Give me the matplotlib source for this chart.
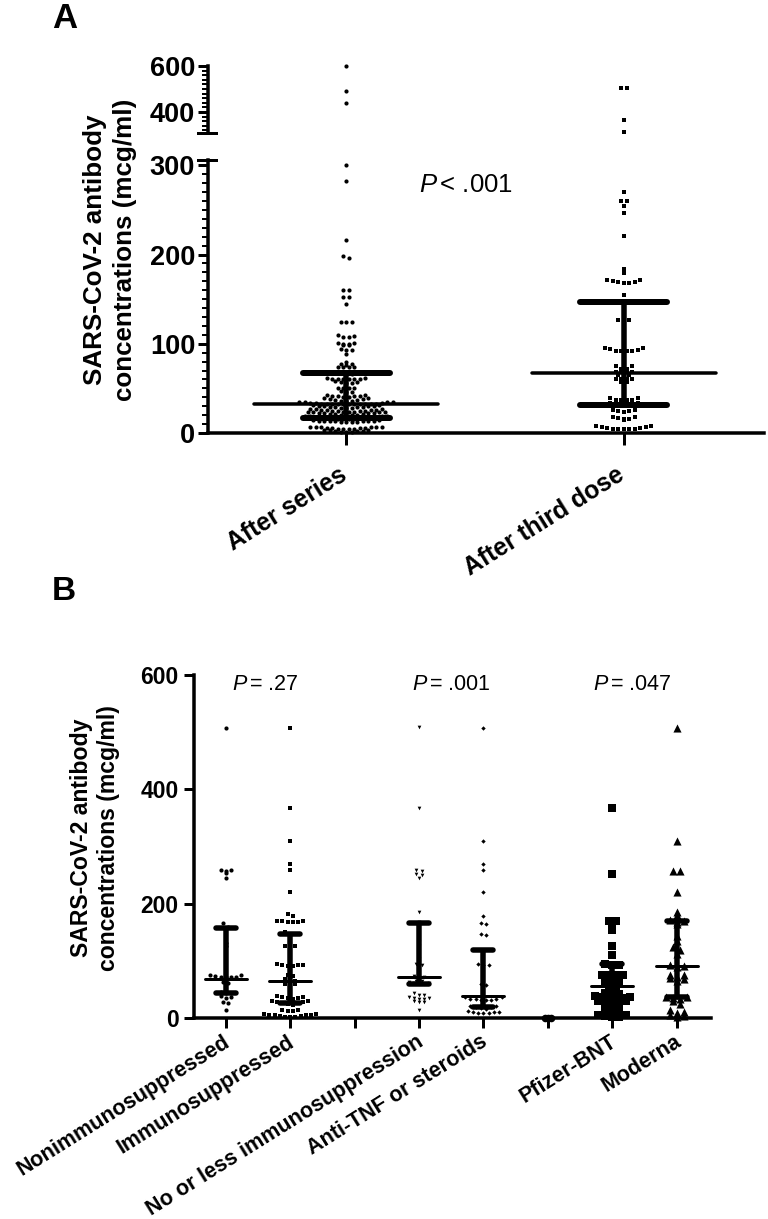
import numpy as np
import matplotlib
matplotlib.use("Agg")
import matplotlib.pyplot as plt
from matplotlib.transforms import ScaledTranslation

WIDTH = 768
HEIGHT = 1219

plt.rcParams['font.family'] = ['Liberation Sans', 'DejaVu Sans']
plt.rcParams['mathtext.fontset'] = 'custom'
plt.rcParams['mathtext.it'] = 'Liberation Sans:italic'
plt.rcParams['mathtext.rm'] = 'Liberation Sans'

# panel A
after_series = [
    600, 493, 438, 300, 283, 216, 198, 196, 160, 160, 153, 153, 145, 124, 124, 124,
    110, 109, 108, 108, 101, 101, 100, 100, 99, 99, 94, 93, 93, 88, 80, 77, 77, 76, 74, 74, 74, 74,
    68, 68, 68, 67, 66, 66, 60, 60, 60, 60, 61, 61, 62, 62, 56, 56, 57, 57, 58,
    50, 50, 51, 51, 46, 46, 47,
    40, 40, 41, 41, 42, 42, 43, 43,
    36, 36, 36, 37, 37, 38, 38, 39, 39,
    32, 32, 32, 32, 32, 33, 33, 33, 33, 33, 33, 34, 34, 34, 35, 35, 35, 35,
    28, 28, 28, 29, 29, 29, 29, 30, 30, 30, 30, 31, 31,
    24, 24, 24, 25, 25, 25, 25, 26, 26, 26, 26, 27, 27, 27,
    20, 20, 20, 20, 21, 21, 21, 22, 22, 22, 22, 23, 23, 23, 23,
    16, 16, 16, 16, 17, 17, 17, 17, 18, 18, 18, 18, 19, 19, 19, 19,
    12, 12, 12, 12, 13, 13, 13, 14, 14, 14, 14, 15, 15,
    5, 5, 5, 5, 6, 6, 6, 6, 7, 7, 7, 7, 7, 7,
    1, 1, 1, 2, 2, 2, 3, 3, 3,
]
after_third = [
    504, 504, 367, 313, 270, 260, 260, 254, 247, 221, 184, 179,
    171, 171, 170, 169, 169, 168, 168, 155, 127, 127, 127,
    95, 95, 94, 93, 92, 92, 92, 92,
    75, 75, 72, 72, 68, 68, 68, 68, 65, 65, 65, 61, 61, 61, 61, 57, 57,
    42, 39, 39, 37, 37, 37, 37, 34, 34, 34, 34, 34, 34, 31, 31, 31, 31, 31, 31,
    26, 26, 25, 25, 24, 18, 18, 17, 16, 16, 15,
    7.9, 7.9, 7, 6.5, 6, 5.5, 5, 5, 4.5, 4, 4,
]
a_labels = ['After series', 'After third dose']
a_median = [33, 67.5]
a_low = [17, 31.5]
a_high = [67, 146.5]

# panel B
b_nonimmuno = [508, 260, 260, 258, 254, 246, 167, 160, 132, 126, 76, 75, 74, 73, 73, 72, 72, 63, 61, 46, 45, 44, 39, 37, 35, 29, 27, 15]
b_immuno = [507, 367, 310, 270, 260, 220, 183, 178, 170, 170, 170, 169, 168, 168, 150, 147, 145, 127, 126, 124, 112, 108, 95, 94, 93, 93, 92, 92,
            80, 75, 74, 68, 66, 64, 60, 60, 58, 39, 38, 37, 36, 35, 33, 31, 30, 29, 28, 27, 26, 25, 24,
            15, 14, 13, 12, 7, 7, 6, 6, 5, 5, 4, 4, 3, 3, 2]
b_no_less = [509, 367, 260, 258, 253, 250, 246, 185, 168, 167, 166, 133, 126, 104, 98, 95, 94, 74, 73, 73, 66, 65, 63, 62, 61, 60, 60,
             44, 41, 40, 38, 36, 35, 34, 34, 30, 29, 29, 15]
b_anti_tnf = [507, 310, 270, 260, 220, 178, 167, 165, 147, 146, 118, 95, 94, 93, 60, 58, 38, 37, 33, 33, 33, 32, 32, 32, 28, 22, 21, 20, 19, 18, 17,
              12, 11.5, 11, 10.5, 10, 9.5, 9]
b_no_group = [0, 0, 0]
b_pfizer = [367, 253, 170, 170, 163, 155, 127, 110, 95, 94, 93, 76, 76, 75, 75, 70, 68, 66, 62, 60, 58, 54, 52,
            44, 42, 40, 39, 38, 37, 36, 35, 33, 31, 30, 29, 27, 26, 22, 20, 18, 14, 12, 10, 6, 5, 4, 3, 2]
b_moderna = [507, 310, 258, 258, 220, 185, 180, 171, 170, 168, 165, 143, 135, 125, 120, 112, 94, 92, 90, 76, 75, 72, 70, 68, 65,
             40, 38, 37, 36, 33, 30, 25, 14, 11, 9, 6, 4, 2]
b_labels = ['Nonimmunosuppressed', 'Immunosuppressed', '', 'No or less immunosuppression',
            'Anti-TNF or steroids', '', 'Pfizer-BNT', 'Moderna']
b_medians = [68, 65, 73, 38.5, 0, 56, 91]
b_lows = [45, 27, 60, 19, 0, 29, 37]
b_highs = [158, 147, 167, 119, 0, 95, 170]
b_p_values = ['= .27', '= .001', '= .047']


def px(value):
    # pixels to points at dpi 100
    return value * 0.72


def make_axes(fig, left, top, right, bottom):
    ax = fig.add_axes([left / WIDTH, 1 - bottom / HEIGHT, (right - left) / WIDTH, (bottom - top) / HEIGHT])
    ax.patch.set_alpha(0)
    ax.spines['top'].set_visible(False)
    ax.spines['right'].set_visible(False)
    ax.spines['left'].set_linewidth(px(3.5))
    ax.spines['bottom'].set_linewidth(px(3.5))
    return ax


def swarm(values, position, bin_size, step, unit):
    # lays out points like a prism scatter: each bin fills from the centre outwards
    values = np.sort(np.array(values, dtype=float))
    bins = np.floor(values / bin_size)
    xs = np.zeros(len(values))
    for b in np.unique(bins):
        idx = np.where(bins == b)[0]
        n = len(idx)
        for k, i in enumerate(idx):
            if n % 2 == 1:
                slot = (k + 1) // 2 * (1 if k % 2 == 1 else -1)
            else:
                slot = (k // 2 + 0.5) * (1 if k % 2 == 0 else -1)
            xs[i] = position + slot * step * unit
    return xs, values


def draw_bars(ax, position, median, low, high, median_w, cap_w, unit, median_lw, cap_lw):
    ax.plot([position - median_w / 2 * unit, position + median_w / 2 * unit], [median, median],
            color='black', lw=px(median_lw), solid_capstyle='round', zorder=3)
    ax.plot([position, position], [low, high], color='black', lw=px(5.5), solid_capstyle='butt', zorder=3)
    for y in [low, high]:
        ax.plot([position - cap_w / 2 * unit, position + cap_w / 2 * unit], [y, y],
                color='black', lw=px(cap_lw), solid_capstyle='round', zorder=3)


def shift_labels(fig, labels, dx, dy):
    # has to run after tick_params, which resets the label transforms
    offset = ScaledTranslation(px(dx) / 72, px(dy) / 72, fig.dpi_scale_trans)
    for label in labels:
        label.set_transform(label.get_transform() + offset)


def panel_a(fig):
    left, right = 208, 764
    top_ax = make_axes(fig, left, 66, right, 132.7)
    low_ax = make_axes(fig, left, 160, right, 433)
    top_ax.spines['bottom'].set_visible(False)
    xlim = (0.503, 2.505)
    unit = (xlim[1] - xlim[0]) / (right - left)
    top_ax.set_xlim(xlim)
    low_ax.set_xlim(xlim)
    top_ax.set_ylim(310, 600)
    low_ax.set_ylim(0, 306)

    groups = [(after_series, 'o', 9), (after_third, 's', 9)]
    for i, (values, marker, size) in enumerate(groups):
        xs, ys = swarm(values, i + 1, 4, 5.5, unit)
        for ax, mask in [(top_ax, ys >= 310), (low_ax, ys < 310)]:
            ax.scatter(xs[mask], ys[mask], marker=marker, s=size, color='black', linewidths=0, zorder=2, clip_on=False)
        draw_bars(low_ax, i + 1, a_median[i], a_low[i], a_high[i], 184, 87, unit, 3.5, 6)

    top_ax.set_xticks([])
    top_ax.set_yticks([400, 600])
    top_ax.set_yticks(np.arange(320, 600, 20), minor=True)
    low_ax.set_xticks([1, 2])
    low_ax.set_xticklabels(a_labels, rotation=32, ha='right', va='top', rotation_mode='anchor', fontweight='bold', fontsize=17.8)
    low_ax.set_yticks([0, 100, 200, 300])
    low_ax.set_yticks(np.arange(0, 300, 10), minor=True)
    for ax in [top_ax, low_ax]:
        ax.tick_params(axis='y', which='major', length=px(10), width=px(3), labelsize=19.5, pad=2)
        ax.tick_params(axis='y', which='minor', length=px(6), width=px(2))
        ax.tick_params(axis='x', length=px(12), width=px(3), pad=6)
        for label in ax.get_yticklabels():
            label.set_fontweight('bold')
    shift_labels(fig, low_ax.get_xticklabels(), -8, -9)

    # break marks at the ends of the two axis segments
    top_ax.plot([-10 / (right - left), 8 / (right - left)], [310, 310], transform=top_ax.get_yaxis_transform(),
                color='black', lw=px(3), clip_on=False)
    low_ax.plot([-10 / (right - left), 8 / (right - left)], [306, 306], transform=low_ax.get_yaxis_transform(),
                color='black', lw=px(3), clip_on=False)

    fig.text(466 / WIDTH, 1 - 185 / HEIGHT, r'$\mathit{P}\,$< .001', fontsize=18.5, ha='center', va='center')
    fig.text(110 / WIDTH, 1 - 250 / HEIGHT, 'SARS-CoV-2 antibody\nconcentrations (mcg/ml)', rotation=90,
             fontsize=18.7, fontweight='bold', ha='center', va='center', ma='center', linespacing=1.36)
    fig.text(52 / WIDTH, 1 - 18 / HEIGHT, 'A', fontsize=25, fontweight='bold', ha='left', va='center')


def panel_b(fig):
    left, right = 194, 711
    ax = make_axes(fig, left, 675, right, 1018.3)
    xlim = (0.508, 8.53)
    unit = (xlim[1] - xlim[0]) / (right - left)
    ax.set_xlim(xlim)
    ax.set_ylim(0, 600)

    positions = [1, 2, 4, 5, 6, 7, 8]
    series = [b_nonimmuno, b_immuno, b_no_less, b_anti_tnf, b_no_group, b_pfizer, b_moderna]
    markers = ['o', 's', 'v', 'D', 'o', 's', '^']
    sizes = [9, 7, 7, 5, 30, 30, 34]
    steps = [5.2, 5.2, 5.2, 5.2, 3, 7, 7]
    for i in range(len(positions)):
        xs, ys = swarm(series[i], positions[i], 8, steps[i], unit)
        ax.scatter(xs, ys, marker=markers[i], s=sizes[i], color='black', linewidths=0, zorder=2, clip_on=False)
        if positions[i] == 6:
            continue
        draw_bars(ax, positions[i], b_medians[i], b_lows[i], b_highs[i], 42, 20, unit, 3, 5.5)

    ax.set_xticks(range(1, 9))
    ax.set_xticklabels(b_labels, rotation=32, ha='right', va='top', rotation_mode='anchor', fontweight='bold', fontsize=15.5)
    ax.set_yticks([0, 200, 400, 600])
    ax.tick_params(axis='y', length=px(10), width=px(3), labelsize=16.5, pad=4)
    ax.tick_params(axis='x', length=px(10), width=px(3), pad=5)
    for label in ax.get_yticklabels():
        label.set_fontweight('bold')
    shift_labels(fig, ax.get_xticklabels(), -3, 4)

    for xpos, p in zip([265, 451, 632], b_p_values):
        fig.text(xpos / WIDTH, 1 - 685 / HEIGHT, r'$\mathit{P}\,$' + p, fontsize=15.5, ha='center', va='center')
    fig.text(95 / WIDTH, 1 - 838 / HEIGHT, 'SARS-CoV-2 antibody\nconcentrations (mcg/ml)', rotation=90,
             fontsize=16.6, fontweight='bold', ha='center', va='center', ma='center', linespacing=1.2)
    fig.text(52 / WIDTH, 1 - 591 / HEIGHT, 'B', fontsize=24, fontweight='bold', ha='left', va='center')


def main():
    fig = plt.figure(figsize=(WIDTH / 100, HEIGHT / 100), dpi=100)
    panel_a(fig)
    panel_b(fig)
    fig.savefig('out.png', dpi=100)


if __name__ == '__main__':
    main()
